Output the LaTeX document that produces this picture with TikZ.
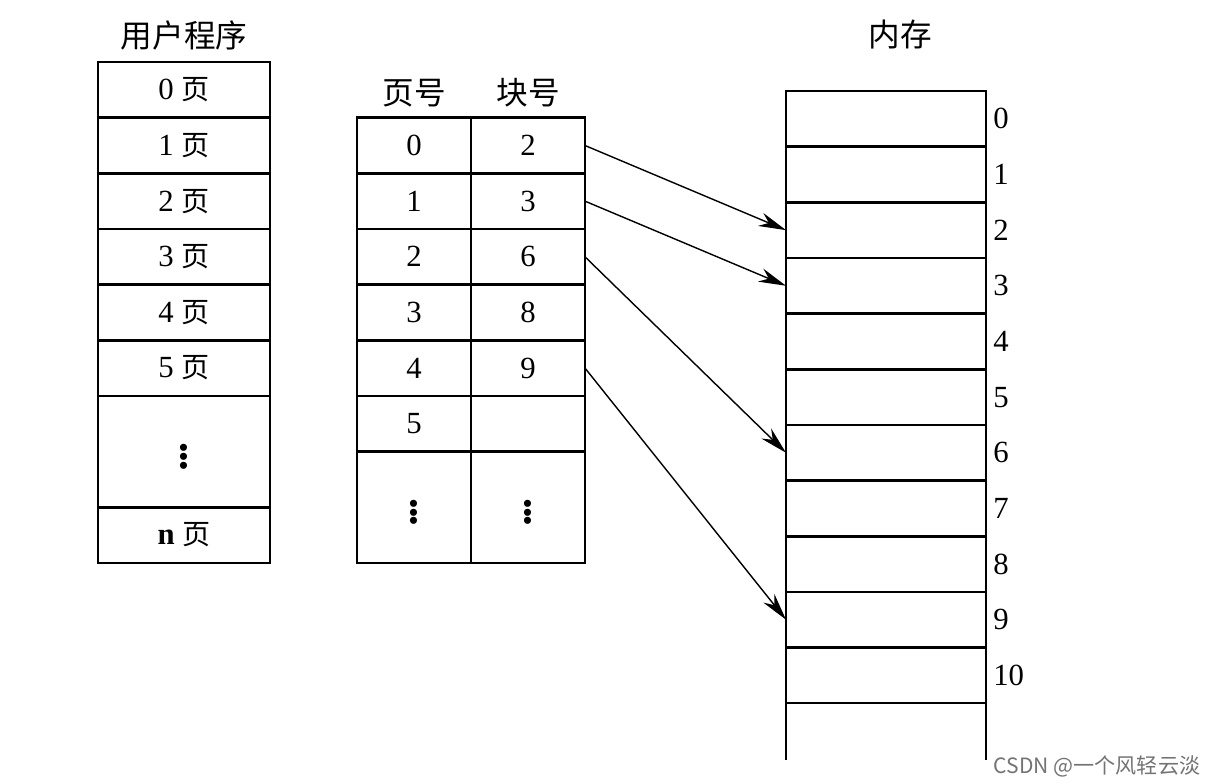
\documentclass[tikz,border=0pt]{standalone}
\usepackage{fontspec}
\setmainfont{Liberation Serif}
\newfontfamily\cjk{Noto Sans CJK SC}
\usetikzlibrary{arrows.meta}
\newcommand{\pg}{{\cjk\fontsize{16}{19}\selectfont 页}}
\newcommand{\dotsv}{{\fontsize{34}{34}\selectfont$\vdots$}}

\begin{document}
\begin{tikzpicture}[
    cell/.style={draw=black, line width=1.5pt, minimum width=3.44cm, minimum height=1.113cm,
                 inner sep=0pt, outer sep=0pt, font=\fontsize{17.5}{20}\selectfont},
    tcell/.style={cell, minimum width=2.28cm},
    mcell/.style={cell, minimum width=4.00cm},
    tall/.style={minimum height=2.226cm},
    title/.style={font=\cjk\fontsize{18}{22}\selectfont},
    addr/.style={anchor=west, inner sep=0pt, font=\fontsize{17.5}{20}\selectfont},
    map/.style={-{Stealth[length=5.5mm, width=2.8mm, inset=1.8mm]}, line width=0.8pt},
    stamp/.style={font=\cjk\fontsize{12}{14}\selectfont, text=black!55}
  ]
    \useasboundingbox (0,0) rectangle (24.16,-15.68);

    % user program (rows 1.113cm high, top at -1.24)
    \node[title] (ptitle) at (3.68,-0.70) {用户程序};
    \node[cell] (p0) at (3.68,-1.797) {0 \pg};
    \node[cell] (p1) at (3.68,-2.910) {1 \pg};
    \node[cell] (p2) at (3.68,-4.023) {2 \pg};
    \node[cell] (p3) at (3.68,-5.136) {3 \pg};
    \node[cell] (p4) at (3.68,-6.249) {4 \pg};
    \node[cell] (p5) at (3.68,-7.362) {5 \pg};
    \node[cell, tall] (pdots) at (3.68,-9.031) {\dotsv};
    \node[cell] (pn) at (3.68,-10.700) {\textbf{n} \pg};

    % page table
    \node[title] (thead1) at (8.28,-1.86)  {页号};
    \node[title] (thead2) at (10.56,-1.86) {块号};
    \node[tcell] (t0) at (8.28,-2.910) {0};  \node[tcell] (b0) at (10.56,-2.910) {2};
    \node[tcell] (t1) at (8.28,-4.023) {1};  \node[tcell] (b1) at (10.56,-4.023) {3};
    \node[tcell] (t2) at (8.28,-5.136) {2};  \node[tcell] (b2) at (10.56,-5.136) {6};
    \node[tcell] (t3) at (8.28,-6.249) {3};  \node[tcell] (b3) at (10.56,-6.249) {8};
    \node[tcell] (t4) at (8.28,-7.362) {4};  \node[tcell] (b4) at (10.56,-7.362) {9};
    \node[tcell] (t5) at (8.28,-8.475) {5};  \node[tcell] (b5) at (10.56,-8.475) {};
    \node[tcell, tall] (tdots) at (8.28,-10.144) {\dotsv};
    \node[tcell, tall] (bdots) at (10.56,-10.144) {\dotsv};

    % memory blocks
    \node[title] (mtitle) at (18.00,-0.70) {内存};
    \node[mcell] (m0)  at (17.72,-2.377)  {};
    \node[mcell] (m1)  at (17.72,-3.490)  {};
    \node[mcell] (m2)  at (17.72,-4.603)  {};
    \node[mcell] (m3)  at (17.72,-5.716)  {};
    \node[mcell] (m4)  at (17.72,-6.829)  {};
    \node[mcell] (m5)  at (17.72,-7.942)  {};
    \node[mcell] (m6)  at (17.72,-9.055)  {};
    \node[mcell] (m7)  at (17.72,-10.168) {};
    \node[mcell] (m8)  at (17.72,-11.281) {};
    \node[mcell] (m9)  at (17.72,-12.394) {};
    \node[mcell] (m10) at (17.72,-13.507) {};
    \draw[line width=1.5pt] (m10.south west) -- ++(0,-1.14);
    \draw[line width=1.5pt] (m10.south east) -- ++(0,-1.14);

    \node[addr] (a0)  at (19.86,-2.377)  {0};
    \node[addr] (a1)  at (19.86,-3.490)  {1};
    \node[addr] (a2)  at (19.86,-4.603)  {2};
    \node[addr] (a3)  at (19.86,-5.716)  {3};
    \node[addr] (a4)  at (19.86,-6.829)  {4};
    \node[addr] (a5)  at (19.86,-7.942)  {5};
    \node[addr] (a6)  at (19.86,-9.055)  {6};
    \node[addr] (a7)  at (19.86,-10.168) {7};
    \node[addr] (a8)  at (19.86,-11.281) {8};
    \node[addr] (a9)  at (19.86,-12.394) {9};
    \node[addr] (a10) at (19.86,-13.507) {10};

    \draw[map] (b0.east) -- (m2.west);
    \draw[map] (b1.east) -- (m3.west);
    \draw[map] (b2.east) -- (m6.west);
    \draw[map] (b4.east) -- (m9.west);

    \node[stamp] (csdn) at (21.94,-15.32) {CSDN @一个风轻云淡};
  \end{tikzpicture}
\end{document}
